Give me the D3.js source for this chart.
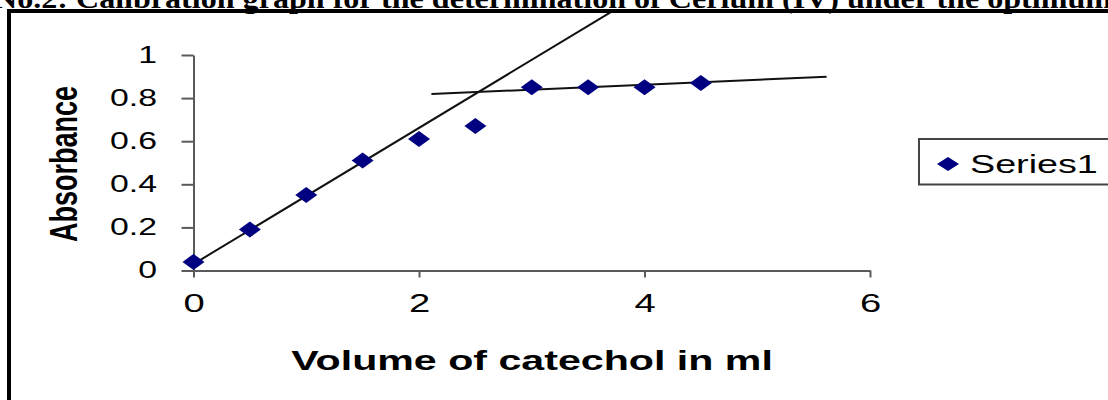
<!DOCTYPE html>
<html>
<head>
<meta charset="utf-8">
<script src="https://cdn.jsdelivr.net/npm/d3@7"></script>
<style>
  html, body { margin: 0; padding: 0; background: #fff; }
  svg { display: block; }
</style>
</head>
<body>
<svg id="chart" width="1108" height="400"></svg>
<script>
// ---- data ----
const titleText = "No.2: Calibration graph for the determination of Cerium (IV) under the optimum";
const xValues = [0, 0.5, 1, 1.5, 2, 2.5, 3, 3.5, 4, 4.5];
const yValues = [0.04, 0.19, 0.35, 0.51, 0.61, 0.67, 0.85, 0.85, 0.85, 0.87];
const xTicks = [0, 2, 4, 6];
const yTicks = [0, 0.2, 0.4, 0.6, 0.8, 1];
const yTickLabels = ["0", "0.2", "0.4", "0.6", "0.8", "1"];
const trend1X = [0, 3.72];
const trend1Y = [0.03, 1.205];
const trend2X = [2.11, 5.615];
const trend2Y = [0.819, 0.899];
const seriesName = "Series1";
const xTitle = "Volume of catechol in ml";
const yTitle = "Absorbance";

// ---- layout ----
const SX = 1.47; // horizontal stretch of the original chart image
const svg = d3.select("#chart");
const x = d3.scaleLinear().domain([0, 6]).range([193.5, 870]);
const y = d3.scaleLinear().domain([0, 1]).range([270.5, 55]);
const sans = "'Liberation Sans', Arial, sans-serif";
const navy = "#000080";
const diamond = (w, h) => `M${-w/2},0L0,${-h/2}L${w/2},0L0,${h/2}Z`;

// title (document text above the chart, cut at top)
svg.append("text")
  .attr("x", -6).attr("y", 8)
  .attr("font-family", "'Liberation Serif', 'Times New Roman', serif")
  .attr("font-weight", "bold").attr("font-size", 28)
  .attr("textLength", 1118).attr("lengthAdjust", "spacingAndGlyphs")
  .attr("fill", "#000")
  .text(titleText);

// axes
const gx = svg.append("g").attr("transform", `translate(0,${y(0)})`)
  .call(d3.axisBottom(x).tickValues(xTicks).tickFormat(d3.format("d"))
    .tickSize(7).tickSizeOuter(0).tickPadding(16));
const gy = svg.append("g").attr("transform", `translate(${x(0)},0)`)
  .call(d3.axisLeft(y).tickValues(yTicks).tickFormat((d, i) => yTickLabels[i])
    .tickSize(12).tickSizeOuter(0).tickPadding(24.5));

[gx, gy].forEach(g => {
  g.select(".domain").attr("stroke", "#5a5a5a").attr("stroke-width", 2);
  g.selectAll(".tick line").attr("stroke", "#5a5a5a").attr("stroke-width", 2);
  g.selectAll(".tick text").attr("fill", "#000").attr("font-family", sans);
});
gx.selectAll(".tick text").attr("font-size", 26).attr("transform", `scale(${SX},1)`);
gy.selectAll(".tick text").attr("font-size", 23)
  .attr("x", -36.5 / SX).attr("transform", `scale(${SX},1)`);

// axis titles
svg.append("text")
  .attr("transform", `translate(532,370) scale(${SX},1)`)
  .attr("text-anchor", "middle")
  .attr("font-family", sans).attr("font-weight", "bold").attr("font-size", 28)
  .attr("fill", "#000")
  .text(xTitle);
svg.append("text")
  .attr("transform", `translate(63,164) scale(${SX},1) rotate(-90)`)
  .attr("text-anchor", "middle").attr("dy", "0.36em")
  .attr("font-family", sans).attr("font-weight", "bold").attr("font-size", 27)
  .attr("fill", "#000")
  .text(yTitle);

// trend lines
const line = d3.line().x(d => x(d[0])).y(d => y(d[1]));
svg.append("path").datum(d3.zip(trend1X, trend1Y))
  .attr("d", line).attr("fill", "none").attr("stroke", "#111").attr("stroke-width", 2);
svg.append("path").datum(d3.zip(trend2X, trend2Y))
  .attr("d", line).attr("fill", "none").attr("stroke", "#111").attr("stroke-width", 2);

// points
svg.append("g").selectAll("path")
  .data(d3.zip(xValues, yValues))
  .join("path")
  .attr("transform", d => `translate(${x(d[0])},${y(d[1])})`)
  .attr("d", diamond(22, 16))
  .attr("fill", navy);

// legend
const lg = svg.append("g");
lg.append("rect").attr("x", 919).attr("y", 139).attr("width", 260).attr("height", 45.5)
  .attr("fill", "#fff").attr("stroke", "#444").attr("stroke-width", 2);
lg.append("path").attr("transform", "translate(948,164)").attr("d", diamond(22, 14)).attr("fill", navy);
lg.append("text")
  .attr("transform", `translate(970,173) scale(1.45,1)`)
  .attr("font-family", sans).attr("font-size", 26).attr("fill", "#000")
  .text(seriesName);

// outer frame (cut on right and bottom)
svg.append("path")
  .attr("d", "M9,402V11H1112")
  .attr("fill", "none").attr("stroke", "#000").attr("stroke-width", 4);
</script>
</body>
</html>
